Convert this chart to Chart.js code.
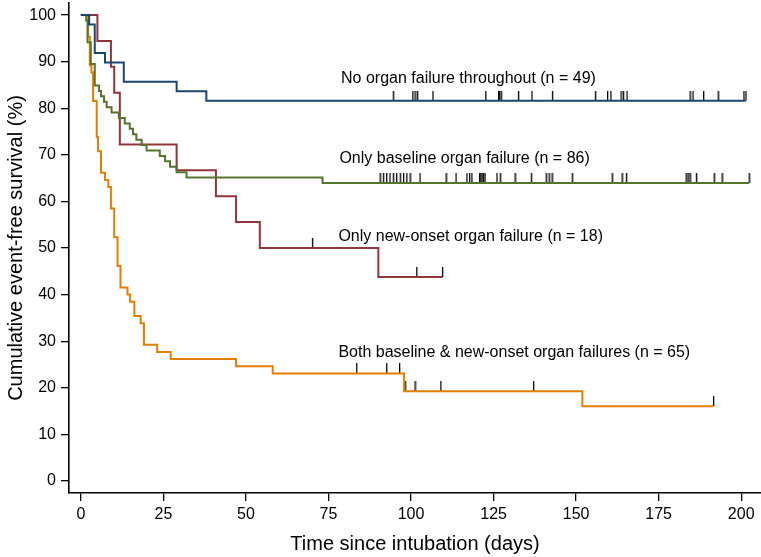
<!DOCTYPE html>
<html>
<head>
<meta charset="utf-8">
<script src="https://cdn.jsdelivr.net/npm/chart.js@4.4.0/dist/chart.umd.min.js"></script>
<style>
    html, body { margin: 0; padding: 0; background: #fff; }
    #wrap { width: 761px; height: 557px; position: relative; }
</style>
</head>
<body>
<div id="wrap"><canvas id="km"></canvas></div>
<script>
// Kaplan-Meier curves: event times (days) and survival (%) after each step
const noneT = [0, 2.5, 4.2, 7.3, 13, 29, 38, 201.4];
const noneS = [100, 97.96, 91.84, 89.8, 85.71, 83.67, 81.63, 81.63];
const noneCensor = [94.6, 100.5, 101.2, 101.9, 106.6, 122.6, 126.5, 126.8, 127.3, 132.5, 136.6, 142.8,
    155.8, 159.5, 160.5, 163.6, 164.3, 165.4, 184.5, 185.4, 188.6, 193, 200.8, 201.4];

const baseT = [0, 1.6, 2, 3, 4.2, 5.5, 6.1, 7, 7.8, 9.3, 11.5, 13.3, 14.8, 15.8, 16.8, 18.4, 19.9,
    23.9, 25.5, 27, 29, 32, 73.2, 202.4];
const baseS = [100, 98.84, 94.19, 89.53, 84.88, 83.72, 82.56, 81.4, 80.23, 79.07, 77.91, 76.74, 75.58,
    74.42, 73.26, 72.09, 70.93, 69.77, 68.6, 67.44, 66.28, 65.12, 63.95, 63.95];
const baseCensor = [90.6, 91.6, 92.6, 93.6, 94.6, 95.6, 96.7, 97.7, 98.7, 99.7, 102.7, 110.6, 113.6,
    116.9, 117.7, 118.4, 120.7, 121.1, 121.5, 121.9, 122.4, 126, 127, 131.5, 136.4, 140.9, 141.8,
    142.7, 148.8, 160.9, 163.9, 165.2, 183.3, 183.9, 184.5, 186.4, 191.8, 194.2, 202.4];

const newT = [0, 5, 9.1, 10.1, 11.8, 29, 40.9, 47, 54.2, 90.1, 109.5];
const newS = [100, 94.44, 88.89, 83.33, 72.22, 66.67, 61.11, 55.56, 50, 43.75, 43.75];
const newCensor = [70.1, 101.7, 109.5];

const bothT = [0, 2.2, 2.7, 3.2, 3.7, 4.8, 5.2, 6.1, 7.3, 8.3, 9.1, 10.1, 11.1, 12, 14.1, 14.9, 16.2,
    18.1, 19.1, 23.1, 27.2, 47, 58.1, 97.9, 151.9, 191.6];
const bothS = [100, 95.38, 89.23, 87.69, 81.54, 73.85, 70.77, 66.15, 64.62, 63.08, 58.46, 52.31, 46.15,
    41.54, 40, 38.46, 35.38, 33.85, 29.23, 27.69, 26.15, 24.62, 23.08, 19.23, 16.03, 16.03];
const bothCensor = [83.5, 92.6, 96.5, 98.2, 101.2, 109, 137.1, 191.6];

const xTicks = [0, 25, 50, 75, 100, 125, 150, 175, 200];
const yTicks = [0, 10, 20, 30, 40, 50, 60, 70, 80, 90, 100];

const labelText = [
    'No organ failure throughout (n = 49)',
    'Only baseline organ failure (n = 86)',
    'Only new-onset organ failure (n = 18)',
    'Both baseline & new-onset organ failures (n = 65)'
];
const labelX = [78.8, 78.3, 78.0, 78.0];
const labelY = [85.4, 68.2, 51.6, 26.7];

const FONT = '"Liberation Sans", Arial, sans-serif';
const COLORS = { none: '#1a476f', base: '#55752f', newo: '#90353b', both: '#e37e00' };

function levelAt(T, S, t) {
    let v = S[0];
    for (let i = 0; i < T.length; i++) if (T[i] <= t) v = S[i];
    return v;
}

// censoring mark: short vertical bar sitting on top of the curve
const tickImg = document.createElement('canvas');
tickImg.width = 3;
tickImg.height = 20;
const tctx = tickImg.getContext('2d');
tctx.fillStyle = '#000';
tctx.fillRect(1, 0, 1.3, 10);

function curve(T, S, color) {
    return {
        data: T.map((t, i) => ({ x: t, y: S[i] })),
        stepped: true,
        borderColor: color,
        borderWidth: 2,
        pointRadius: 0,
        fill: false
    };
}

function censor(times, T, S) {
    return {
        data: times.map(t => ({ x: t, y: levelAt(T, S, t) })),
        showLine: false,
        pointStyle: tickImg,
        pointRadius: 1,
        borderColor: '#000',
        backgroundColor: '#000'
    };
}

const curveLabels = {
    id: 'curveLabels',
    afterDatasetsDraw(chart) {
        const { ctx, scales: { x, y } } = chart;
        ctx.save();
        ctx.font = '16px ' + FONT;
        ctx.fillStyle = '#000';
        ctx.textBaseline = 'alphabetic';
        ctx.textAlign = 'left';
        labelText.forEach((t, i) => {
            ctx.fillText(t, x.getPixelForValue(labelX[i]), y.getPixelForValue(labelY[i]));
        });
        ctx.restore();
    }
};

const axisGrid = { display: true, drawOnChartArea: false, drawTicks: true, tickLength: 8, color: '#000', lineWidth: 1.3 };
const axisBorder = { display: true, color: '#000', width: 1.6 };

new Chart(document.getElementById('km'), {
    type: 'line',
    data: {
        datasets: [
            curve(noneT, noneS, COLORS.none),
            curve(baseT, baseS, COLORS.base),
            curve(newT, newS, COLORS.newo),
            curve(bothT, bothS, COLORS.both),
            censor(noneCensor, noneT, noneS),
            censor(baseCensor, baseT, baseS),
            censor(newCensor, newT, newS),
            censor(bothCensor, bothT, bothS)
        ]
    },
    options: {
        responsive: true,
        maintainAspectRatio: false,
        animation: false,
        devicePixelRatio: 1,
        layout: { autoPadding: false, padding: { top: 3, right: 0, left: 0, bottom: 0 } },
        plugins: { legend: { display: false }, tooltip: { enabled: false } },
        scales: {
            x: {
                type: 'linear',
                min: -3.6,
                max: 206,
                afterBuildTicks: s => { s.ticks = xTicks.map(v => ({ value: v })); },
                afterFit: s => { s.height = 64; s.paddingLeft = 0; s.paddingRight = 0; },
                ticks: { color: '#000', font: { family: FONT, size: 16 }, padding: 4, maxRotation: 0, autoSkip: false },
                grid: axisGrid,
                border: axisBorder,
                title: { display: true, text: 'Time since intubation (days)', color: '#000',
                    font: { family: FONT, size: 20 }, padding: { top: 0, bottom: 1 } }
            },
            y: {
                type: 'linear',
                min: -2.6,
                max: 102.6,
                afterBuildTicks: s => { s.ticks = yTicks.map(v => ({ value: v })); },
                afterFit: s => { s.width = 69; s.paddingTop = 0; s.paddingBottom = 0; },
                ticks: { color: '#000', font: { family: FONT, size: 16 }, padding: 5, autoSkip: false },
                grid: axisGrid,
                border: axisBorder,
                title: { display: true, text: 'Cumulative event-free survival (%)', color: '#000',
                    font: { family: FONT, size: 20 }, padding: { top: 4, bottom: 0 } }
            }
        }
    },
    plugins: [curveLabels]
});
</script>
</body>
</html>
